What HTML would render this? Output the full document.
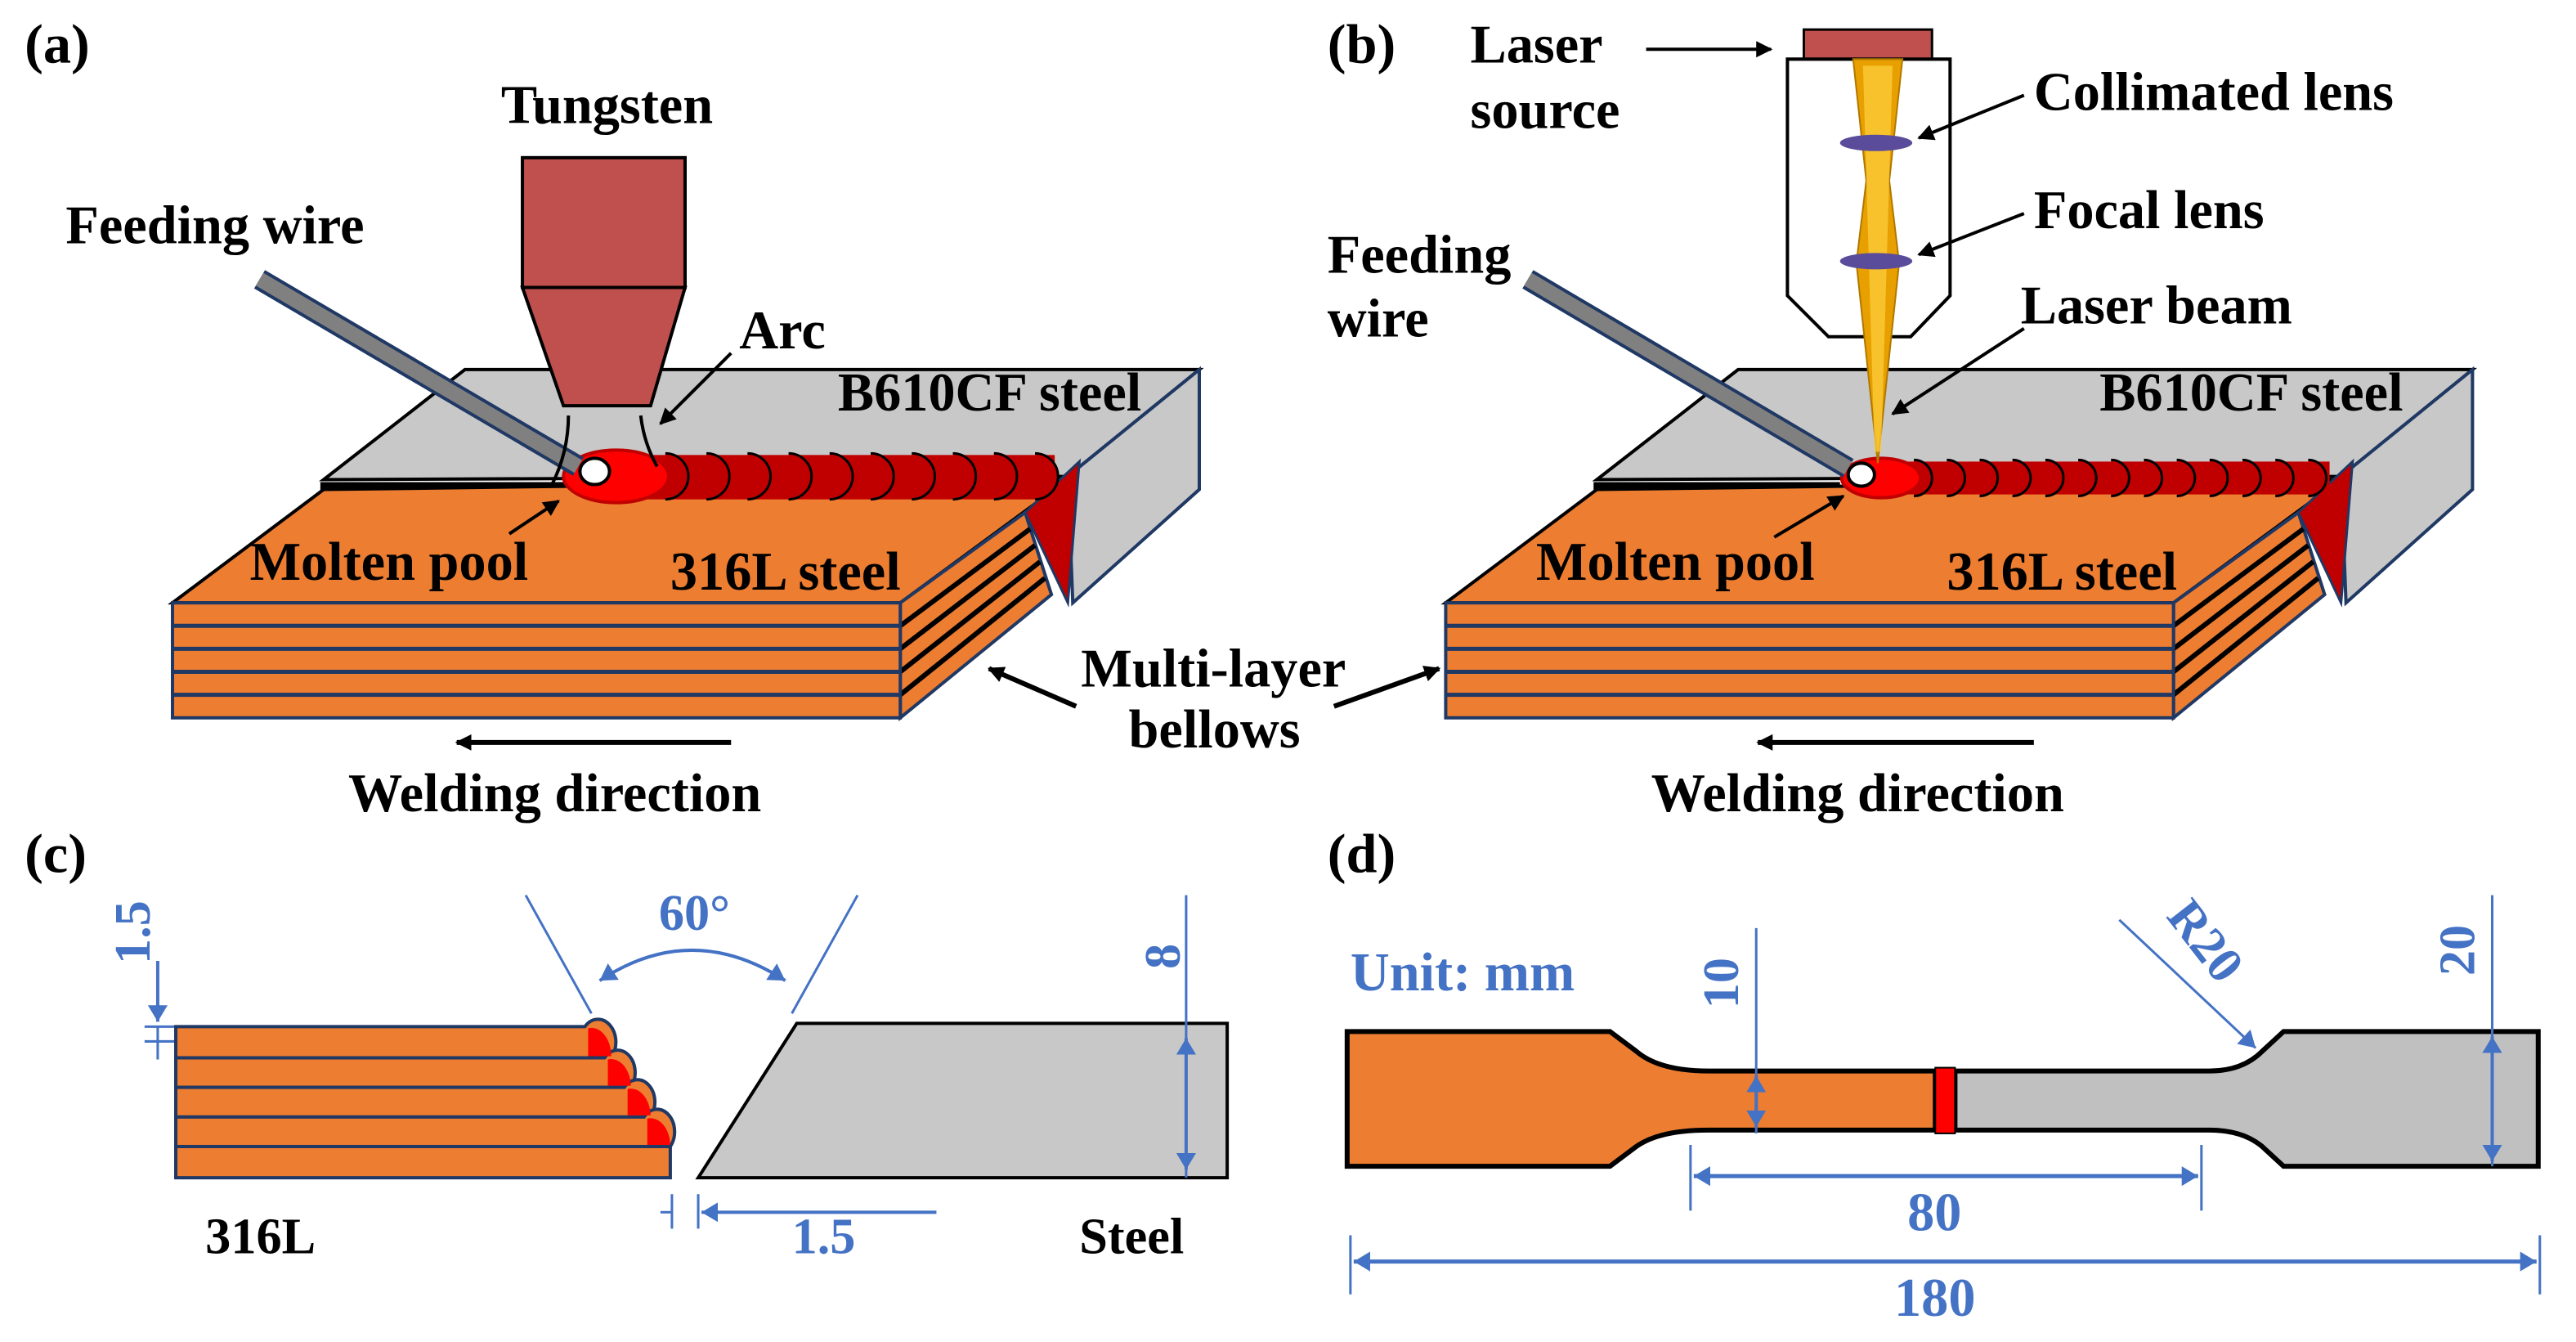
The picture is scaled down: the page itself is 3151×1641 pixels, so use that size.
<!DOCTYPE html>
<html><head><meta charset="utf-8"><style>
html,body{margin:0;padding:0;background:#fff;}
svg{display:block;}
text{font-family:"Liberation Serif",serif;font-weight:bold;}
</style></head><body>
<svg width="3151" height="1641" viewBox="0 0 1568 817" preserveAspectRatio="none" xmlns="http://www.w3.org/2000/svg">
<defs>
<marker id="ab" markerWidth="10" markerHeight="10" refX="9" refY="5" orient="auto" markerUnits="userSpaceOnUse"><path d="M0,0 L10,5 L0,10 z" fill="#000"/></marker>
<marker id="abB" markerWidth="10" markerHeight="12" refX="10" refY="6" orient="auto" markerUnits="userSpaceOnUse"><path d="M0,0 L10,6 L0,12 z" fill="#4472C4"/></marker>
<marker id="abBs" markerWidth="10" markerHeight="12" refX="0" refY="6" orient="auto" markerUnits="userSpaceOnUse"><path d="M10,0 L0,6 L10,12 z" fill="#4472C4"/></marker>
<g id="block">
  <polygon points="197,292 283,225 730,225 650,290" fill="#C8C8C8" stroke="#000" stroke-width="2"/>
  <polygon points="650,290 730,225 730,298 653,367" fill="#C8C8C8" stroke="#1F3864" stroke-width="2"/>
  <line x1="195" y1="296" x2="345" y2="296" stroke="#000" stroke-width="5"/>
  <polygon points="105,367 197,298 650,292 548,367" fill="#ED7D31" stroke="#000" stroke-width="2"/>
  <polygon points="548,367 624,312 640,362 548,437" fill="#ED7D31" stroke="#1F3864" stroke-width="2"/>
  <g stroke="#000" stroke-width="3">
    <line x1="548" y1="381" x2="627" y2="322"/><line x1="548" y1="395" x2="630" y2="332"/>
    <line x1="548" y1="409" x2="633" y2="342"/><line x1="548" y1="423" x2="636" y2="352"/>
  </g>
  <polygon points="624,312 657,281 650,367" fill="#C00000" stroke="#1F3864" stroke-width="1.5"/>
  <rect x="105" y="367" width="443" height="70" fill="#ED7D31" stroke="#1F3864" stroke-width="2"/>
  <g stroke="#1F3864" stroke-width="2.5">
    <line x1="105" y1="381" x2="548" y2="381"/><line x1="105" y1="395" x2="548" y2="395"/>
    <line x1="105" y1="409" x2="548" y2="409"/><line x1="105" y1="423" x2="548" y2="423"/>
  </g>
</g>
</defs>

<!-- ============ (a) ============ -->
<text x="15" y="38" font-size="34">(a)</text>
<use href="#block"/>
<g fill="#C00000" stroke="#000" stroke-width="1.5">
  <rect x="380" y="277" width="262" height="27" stroke="none"/>
  <path d="M630,276 a14,14 0 0 1 0,28"/><path d="M605,276 a14,14 0 0 1 0,28"/>
  <path d="M580,276 a14,14 0 0 1 0,28"/><path d="M555,276 a14,14 0 0 1 0,28"/>
  <path d="M530,276 a14,14 0 0 1 0,28"/><path d="M505,276 a14,14 0 0 1 0,28"/>
  <path d="M480,276 a14,14 0 0 1 0,28"/><path d="M455,276 a14,14 0 0 1 0,28"/>
  <path d="M430,276 a14,14 0 0 1 0,28"/><path d="M405,276 a14,14 0 0 1 0,28"/>
</g>
<ellipse cx="375" cy="290" rx="32" ry="16" fill="#FF0000" stroke="#C00000" stroke-width="2"/>
<line x1="158" y1="170" x2="352" y2="284" stroke="#1F3864" stroke-width="13"/>
<line x1="158" y1="170" x2="352" y2="284" stroke="#808080" stroke-width="9"/>
<ellipse cx="362" cy="287" rx="9" ry="8" fill="#fff" stroke="#000" stroke-width="2"/>
<rect x="318" y="96" width="99" height="79" fill="#C0504D" stroke="#000" stroke-width="2"/>
<polygon points="318,175 417,175 396,247 343,247" fill="#C0504D" stroke="#000" stroke-width="2"/>
<path d="M346,253 Q346,275 336,295" fill="none" stroke="#000" stroke-width="2"/>
<path d="M390,253 Q392,270 400,284" fill="none" stroke="#000" stroke-width="2"/>
<line x1="445" y1="215" x2="402" y2="258" stroke="#000" stroke-width="2" marker-end="url(#ab)"/>
<line x1="310" y1="325" x2="340" y2="305" stroke="#000" stroke-width="2" marker-end="url(#ab)"/>
<text x="305" y="75" font-size="33">Tungsten</text>
<text x="40" y="148" font-size="33">Feeding wire</text>
<text x="450" y="212" font-size="33">Arc</text>
<text x="510" y="250" font-size="33">B610CF steel</text>
<text x="152" y="353" font-size="33">Molten pool</text>
<text x="408" y="359" font-size="33">316L steel</text>
<line x1="445" y1="452" x2="278" y2="452" stroke="#000" stroke-width="3" marker-end="url(#ab)"/>
<text x="212" y="494" font-size="33">Welding direction</text>
<text x="658" y="418" font-size="33">Multi-layer</text>
<text x="687" y="455" font-size="33">bellows</text>
<line x1="655" y1="430" x2="602" y2="407" stroke="#000" stroke-width="3" marker-end="url(#ab)"/>
<line x1="812" y1="430" x2="876" y2="407" stroke="#000" stroke-width="3" marker-end="url(#ab)"/>

<!-- ============ (b) ============ -->
<text x="808" y="38" font-size="34">(b)</text>
<g transform="translate(775,0)"><use href="#block"/></g>
<g fill="#C00000" stroke="#000" stroke-width="1.5">
  <rect x="1140" y="281" width="278" height="20" stroke="none"/>
  <path d="M1405,280 a11,11 0 0 1 0,22"/><path d="M1385,280 a11,11 0 0 1 0,22"/>
  <path d="M1365,280 a11,11 0 0 1 0,22"/><path d="M1345,280 a11,11 0 0 1 0,22"/>
  <path d="M1325,280 a11,11 0 0 1 0,22"/><path d="M1305,280 a11,11 0 0 1 0,22"/>
  <path d="M1285,280 a11,11 0 0 1 0,22"/><path d="M1265,280 a11,11 0 0 1 0,22"/>
  <path d="M1245,280 a11,11 0 0 1 0,22"/><path d="M1225,280 a11,11 0 0 1 0,22"/>
  <path d="M1205,280 a11,11 0 0 1 0,22"/><path d="M1185,280 a11,11 0 0 1 0,22"/>
  <path d="M1165,280 a11,11 0 0 1 0,22"/>
</g>
<ellipse cx="1145" cy="291" rx="24" ry="12" fill="#FF0000" stroke="#C00000" stroke-width="2"/>
<line x1="930" y1="170" x2="1125" y2="285" stroke="#1F3864" stroke-width="13"/>
<line x1="930" y1="170" x2="1125" y2="285" stroke="#808080" stroke-width="9"/>
<ellipse cx="1133" cy="289" rx="8" ry="7" fill="#fff" stroke="#000" stroke-width="2"/>
<rect x="1098" y="18" width="78" height="18" fill="#C0504D" stroke="#000" stroke-width="1.5"/>
<polygon points="1088,36 1187,36 1187,180 1163,205 1113,205 1088,180" fill="#fff" stroke="#000" stroke-width="2"/>
<polygon points="1128,36 1158,36 1150,110 1156,160 1143,282 1130,160 1136,110" fill="#E8A000" stroke="#B07800" stroke-width="1"/>
<polygon points="1134,40 1152,40 1145,275 1141,275" fill="#FFD040" opacity="0.7"/>
<ellipse cx="1142" cy="87" rx="22" ry="5" fill="#5A4C9A"/>
<ellipse cx="1142" cy="159" rx="22" ry="5" fill="#5A4C9A"/>
<line x1="1002" y1="30" x2="1078" y2="30" stroke="#000" stroke-width="2" marker-end="url(#ab)"/>
<line x1="1232" y1="58" x2="1168" y2="84" stroke="#000" stroke-width="2" marker-end="url(#ab)"/>
<line x1="1232" y1="130" x2="1168" y2="155" stroke="#000" stroke-width="2" marker-end="url(#ab)"/>
<line x1="1232" y1="200" x2="1152" y2="252" stroke="#000" stroke-width="2" marker-end="url(#ab)"/>
<line x1="1080" y1="327" x2="1122" y2="302" stroke="#000" stroke-width="2" marker-end="url(#ab)"/>
<text x="895" y="38" font-size="33">Laser</text>
<text x="895" y="78" font-size="33">source</text>
<text x="1238" y="67" font-size="33">Collimated lens</text>
<text x="1238" y="139" font-size="33">Focal lens</text>
<text x="1230" y="197" font-size="33">Laser beam</text>
<text x="808" y="166" font-size="33">Feeding</text>
<text x="808" y="205" font-size="33">wire</text>
<text x="1278" y="250" font-size="33">B610CF steel</text>
<text x="935" y="353" font-size="33">Molten pool</text>
<text x="1185" y="359" font-size="33">316L steel</text>
<line x1="1238" y1="452" x2="1070" y2="452" stroke="#000" stroke-width="3" marker-end="url(#ab)"/>
<text x="1005" y="494" font-size="33">Welding direction</text>

<!-- ============ (c) ============ -->
<text x="15" y="531" font-size="34">(c)</text>
<g stroke="#1F3864" stroke-width="2">
  <path d="M107,625 H356 A7,9 0 0 1 372,644 H107 Z" fill="#ED7D31"/>
  <path d="M107,644 H368 A7,9 0 0 1 384,662 H107 Z" fill="#ED7D31"/>
  <path d="M107,662 H380 A7,9 0 0 1 396,680 H107 Z" fill="#ED7D31"/>
  <path d="M107,680 H392 A7,9 0 0 1 408,698 H107 Z" fill="#ED7D31"/>
  <rect x="107" y="698" width="301" height="19" fill="#ED7D31"/>
</g>
<g fill="#FF0000"><path d="M358,626 A12,17 0 0 1 372,643 H358 Z"/><path d="M370,645 A12,17 0 0 1 384,661 H370 Z"/><path d="M382,663 A12,17 0 0 1 396,679 H382 Z"/><path d="M394,681 A12,17 0 0 1 408,697 H394 Z"/></g>
<polygon points="425,717 485,623 747,623 747,717" fill="#C8C8C8" stroke="#000" stroke-width="2"/>
<line x1="320" y1="545" x2="360" y2="617" stroke="#4472C4" stroke-width="1.5"/>
<line x1="522" y1="545" x2="482" y2="617" stroke="#4472C4" stroke-width="1.5"/>
<path d="M365,597 Q421,560 478,597" fill="none" stroke="#4472C4" stroke-width="2" marker-start="url(#abBs)" marker-end="url(#abB)"/>
<text x="401" y="566" font-size="31" fill="#4472C4">60°</text>
<line x1="722" y1="545" x2="722" y2="717" stroke="#4472C4" stroke-width="1.5"/>
<line x1="722" y1="632" x2="722" y2="712" stroke="#4472C4" stroke-width="2" marker-start="url(#abBs)" marker-end="url(#abB)"/>
<text transform="translate(718,590) rotate(-90)" font-size="31" fill="#4472C4">8</text>
<line x1="96" y1="585" x2="96" y2="622" stroke="#4472C4" stroke-width="2" marker-end="url(#abB)"/>
<line x1="88" y1="625" x2="106" y2="625" stroke="#4472C4" stroke-width="1.5"/>
<line x1="88" y1="634" x2="106" y2="634" stroke="#4472C4" stroke-width="1.5"/>
<line x1="96" y1="625" x2="96" y2="645" stroke="#4472C4" stroke-width="1.5"/>
<text transform="translate(91,587) rotate(-90)" font-size="31" fill="#4472C4">1.5</text>
<line x1="409" y1="727" x2="409" y2="748" stroke="#4472C4" stroke-width="1.5"/>
<line x1="425" y1="727" x2="425" y2="748" stroke="#4472C4" stroke-width="1.5"/>
<line x1="402" y1="738" x2="409" y2="738" stroke="#4472C4" stroke-width="1.5"/>
<line x1="570" y1="738" x2="427" y2="738" stroke="#4472C4" stroke-width="2" marker-end="url(#abB)"/>
<text x="482" y="763" font-size="31" fill="#4472C4">1.5</text>
<text x="125" y="763" font-size="31">316L</text>
<text x="657" y="763" font-size="31">Steel</text>

<!-- ============ (d) ============ -->
<text x="808" y="531" font-size="34">(d)</text>
<path d="M1178,652 H1040 Q1010,652 996,640 L980,628 H820 V710 H980 L996,698 Q1010,688 1040,688 H1178 Z" fill="#ED7D31" stroke="#000" stroke-width="3"/>
<path d="M1190,652 H1345 Q1365,652 1377,640 L1390,628 H1545 V710 H1390 L1377,698 Q1365,688 1345,688 H1190 Z" fill="#C0C0C0" stroke="#000" stroke-width="3"/>
<rect x="1178" y="650" width="12" height="40" fill="#FF0000" stroke="#000" stroke-width="1"/>
<text x="822" y="603" font-size="33" fill="#4472C4">Unit: mm</text>
<line x1="1069" y1="565" x2="1069" y2="690" stroke="#4472C4" stroke-width="1.5"/>
<line x1="1069" y1="655" x2="1069" y2="686" stroke="#4472C4" stroke-width="2" marker-start="url(#abBs)" marker-end="url(#abB)"/>
<text transform="translate(1058,614) rotate(-90)" font-size="31" fill="#4472C4">10</text>
<line x1="1517" y1="545" x2="1517" y2="710" stroke="#4472C4" stroke-width="1.5"/>
<line x1="1517" y1="631" x2="1517" y2="707" stroke="#4472C4" stroke-width="2" marker-start="url(#abBs)" marker-end="url(#abB)"/>
<text transform="translate(1506,594) rotate(-90)" font-size="31" fill="#4472C4">20</text>
<line x1="1290" y1="560" x2="1373" y2="638" stroke="#4472C4" stroke-width="1.5" marker-end="url(#abB)"/>
<text transform="translate(1318,558) rotate(52)" font-size="31" fill="#4472C4">R20</text>
<line x1="1029" y1="697" x2="1029" y2="737" stroke="#4472C4" stroke-width="1.5"/>
<line x1="1340" y1="697" x2="1340" y2="737" stroke="#4472C4" stroke-width="1.5"/>
<line x1="1031" y1="716" x2="1338" y2="716" stroke="#4472C4" stroke-width="2.5" marker-start="url(#abBs)" marker-end="url(#abB)"/>
<text x="1161" y="749" font-size="33" fill="#4472C4">80</text>
<line x1="822" y1="752" x2="822" y2="788" stroke="#4472C4" stroke-width="1.5"/>
<line x1="1546" y1="752" x2="1546" y2="788" stroke="#4472C4" stroke-width="1.5"/>
<line x1="824" y1="768" x2="1544" y2="768" stroke="#4472C4" stroke-width="2.5" marker-start="url(#abBs)" marker-end="url(#abB)"/>
<text x="1153" y="801" font-size="33" fill="#4472C4">180</text>
</svg>
</body></html>
